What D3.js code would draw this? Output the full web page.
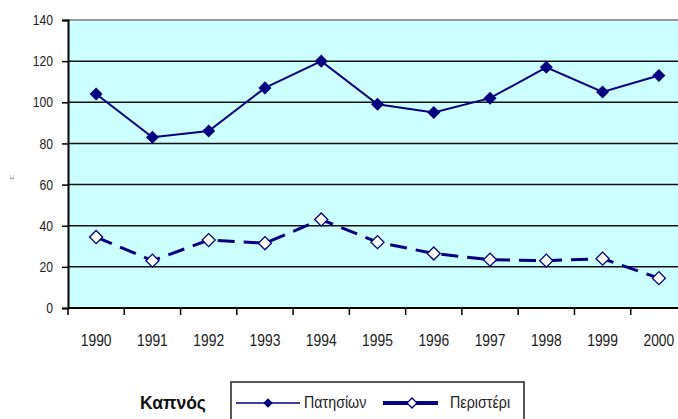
<!DOCTYPE html>
<html>
<head>
<meta charset="utf-8">
<script src="https://cdn.jsdelivr.net/npm/d3@7"></script>
<style>
  body { margin: 0; background: #fff; overflow: hidden; }
  svg { display: block; }
  .lbl { font-family: "Liberation Sans Narrow", "Arial Narrow", "Liberation Sans", Arial, sans-serif; fill: #222; }
</style>
</head>
<body>
<div id="chart"></div>
<script>
const width = 678;
const height = 419;

// data
const years = ["1990", "1991", "1992", "1993", "1994", "1995", "1996", "1997", "1998", "1999", "2000"];
const patision = [104, 83, 86, 107, 120, 99, 95, 102, 117, 105, 113];
const peristeri = [34.5, 23, 33, 31.5, 43, 32, 26.5, 23.5, 23, 24, 14.5];
const yTicks = [0, 20, 40, 60, 80, 100, 120, 140];
const seriesNames = ["Πατησίων", "Περιστέρι"];
const legendTitle = "Καπνός";

const navy = "#000080";
const margin = { top: 20, left: 68, bottom: 308, right: 687 };
const squeeze = 0.84; // fake a narrow face

const svg = d3.select("#chart").append("svg")
    .attr("width", width).attr("height", height);

const x = d3.scaleBand().domain(years).range([margin.left, margin.right]).padding(0);
const y = d3.scaleLinear().domain([0, 140]).range([margin.bottom, margin.top]);

// plot background
svg.append("rect")
    .attr("x", margin.left).attr("y", margin.top)
    .attr("width", margin.right - margin.left).attr("height", margin.bottom - margin.top)
    .attr("fill", "#ccffff");

// gridlines
svg.append("g")
    .selectAll("line")
    .data(yTicks.filter(d => d > 0 && d < 140))
    .join("line")
    .attr("x1", margin.left).attr("x2", margin.right)
    .attr("y1", d => y(d)).attr("y2", d => y(d))
    .attr("stroke", "#111").attr("stroke-width", 1.5);

// top border
svg.append("line")
    .attr("x1", margin.left).attr("x2", margin.right)
    .attr("y1", y(140)).attr("y2", y(140))
    .attr("stroke", "#999").attr("stroke-width", 2);

// y axis
const yAxis = svg.append("g")
    .attr("transform", `translate(${margin.left},0)`)
    .call(d3.axisLeft(y).tickValues(yTicks).tickSize(6).tickPadding(8));
yAxis.select(".domain").attr("stroke", "#000").attr("stroke-width", 2);
yAxis.selectAll(".tick line").attr("stroke", "#000").attr("stroke-width", 1.5);
yAxis.selectAll(".tick text")
    .attr("class", "lbl")
    .attr("x", 0)
    .attr("transform", `translate(-15,0) scale(${squeeze},1)`)
    .style("font-size", "14.5px");

// x axis: ticks on band edges, labels on band centres
svg.append("line")
    .attr("x1", margin.left).attr("x2", margin.right)
    .attr("y1", y(0)).attr("y2", y(0))
    .attr("stroke", "#000").attr("stroke-width", 2);
svg.append("g")
    .selectAll("line")
    .data(years)
    .join("line")
    .attr("x1", d => x(d)).attr("x2", d => x(d))
    .attr("y1", y(0)).attr("y2", y(0) + 7)
    .attr("stroke", "#000").attr("stroke-width", 1.5);
svg.append("g")
    .selectAll("text")
    .data(years)
    .join("text")
    .attr("class", "lbl")
    .attr("transform", d => `translate(${x(d) + x.bandwidth() / 2},346) scale(${squeeze},1)`)
    .attr("text-anchor", "middle")
    .style("font-size", "16.5px")
    .text(d => d);

// cropped axis title remnant
svg.append("text")
    .attr("transform", "translate(14,177) rotate(-90)")
    .attr("text-anchor", "middle")
    .attr("fill", "#777")
    .style("font-size", "7px")
    .style("font-family", "Liberation Sans, Arial, sans-serif")
    .text("ε:");

const cx = (d, i) => x(years[i]) + x.bandwidth() / 2;
const line = d3.line().x(cx).y(d => y(d));
const diamond = d3.symbol().type(d3.symbolSquare).size(85);

// Περιστέρι: dashed, hollow diamonds
svg.append("path")
    .datum(peristeri)
    .attr("d", line)
    .attr("fill", "none")
    .attr("stroke", navy)
    .attr("stroke-width", 3)
    .attr("stroke-dasharray", "17,9");
svg.append("g")
    .selectAll("path")
    .data(peristeri)
    .join("path")
    .attr("d", diamond)
    .attr("transform", (d, i) => `translate(${cx(d, i)},${y(d)}) rotate(45)`)
    .attr("fill", "#fff")
    .attr("stroke", navy)
    .attr("stroke-width", 1.3);

// Πατησίων: solid, filled diamonds
svg.append("path")
    .datum(patision)
    .attr("d", line)
    .attr("fill", "none")
    .attr("stroke", navy)
    .attr("stroke-width", 2);
svg.append("g")
    .selectAll("path")
    .data(patision)
    .join("path")
    .attr("d", diamond)
    .attr("transform", (d, i) => `translate(${cx(d, i)},${y(d)}) rotate(45)`)
    .attr("fill", navy);

// legend
const ly = 403;
svg.append("text")
    .attr("x", 140).attr("y", ly + 6)
    .style("font-family", "Liberation Sans, Arial, sans-serif")
    .style("font-size", "17.5px")
    .style("font-weight", "bold")
    .attr("fill", "#111")
    .text(legendTitle);

svg.append("rect")
    .attr("x", 231).attr("y", 382)
    .attr("width", 293).attr("height", 60)
    .attr("fill", "#fff").attr("stroke", "#222").attr("stroke-width", 1.5);

const leg = svg.append("g");
leg.append("line")
    .attr("x1", 236).attr("x2", 300).attr("y1", ly).attr("y2", ly)
    .attr("stroke", navy).attr("stroke-width", 1.5);
leg.append("path")
    .attr("d", d3.symbol().type(d3.symbolSquare).size(45))
    .attr("transform", `translate(268,${ly}) rotate(45)`)
    .attr("fill", navy);
leg.append("text")
    .attr("class", "lbl")
    .attr("transform", `translate(304,${ly + 5}) scale(${squeeze},1)`)
    .style("font-size", "17px")
    .text(seriesNames[0]);

leg.append("line")
    .attr("x1", 383).attr("x2", 438).attr("y1", ly).attr("y2", ly)
    .attr("stroke", navy).attr("stroke-width", 4);
leg.append("path")
    .attr("d", d3.symbol().type(d3.symbolSquare).size(50))
    .attr("transform", `translate(412,${ly}) rotate(45)`)
    .attr("fill", "#fff").attr("stroke", navy).attr("stroke-width", 1.3);
leg.append("text")
    .attr("class", "lbl")
    .attr("transform", `translate(450,${ly + 5}) scale(${squeeze},1)`)
    .style("font-size", "17px")
    .text(seriesNames[1]);
</script>
</body>
</html>
